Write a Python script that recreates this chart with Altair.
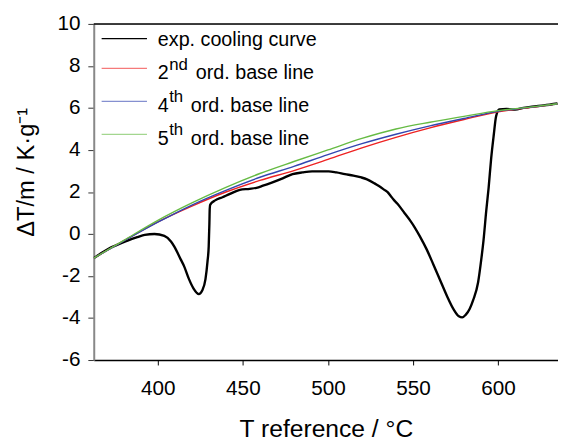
import altair as alt
import pandas as pd

# ---- data ----
exp_T = [362.3, 366, 371, 376, 382.6, 388, 392.3, 398, 403.8, 407.7, 409.6, 413.5, 415.4,
         418.3, 421, 424.1, 426, 428, 429.2, 429.9, 430.3, 430.5, 430.8, 433.7, 438, 442.4,
         448.2, 454, 458, 461.8, 467, 473.4, 479.2, 485, 490.7, 500.4, 505, 510, 515, 519.7,
         523, 527.4, 530, 533.2, 535.1, 537, 539, 540.9, 545, 548.7, 551, 554, 558, 562,
         566, 570, 574, 577, 579, 581, 583.4, 585.4, 588.3, 590.2, 591.5, 593.1,
         594.5, 596, 597.5, 598.9, 600.8, 605, 610, 615, 620, 627, 635]
exp_v = [-1.15, -0.95, -0.7, -0.52, -0.3, -0.15, -0.04, 0.0, -0.09, -0.36, -0.59, -1.22, -1.53,
         -2.15, -2.6, -2.86, -2.7, -2.15, -1.3, -0.59, 0.5, 1.2, 1.4, 1.6, 1.75, 1.91,
         2.1, 2.15, 2.2, 2.3, 2.45, 2.65, 2.85, 2.93, 2.98, 2.98, 2.93, 2.85, 2.78, 2.69,
         2.6, 2.41, 2.28, 2.1, 1.99, 1.8, 1.6, 1.44, 1.0, 0.6, 0.32, -0.1, -0.72, -1.45,
         -2.2, -2.95, -3.6, -3.92, -3.97, -3.85, -3.56, -3.15, -2.31, -1.2, -0.3, 1.1,
         2.2, 3.6, 4.7, 5.6, 5.93, 5.95, 5.92, 6.0, 6.06, 6.12, 6.21]

base_T = [362.3, 380, 400, 420, 440, 460, 480, 500, 520, 540, 560, 580, 600, 620, 635]
base2_v = [-1.15, -0.32, 0.58, 1.33, 2.0, 2.55, 3.02, 3.55, 4.1, 4.6, 5.05, 5.45, 5.82, 6.03, 6.2]
base4_v = [-1.15, -0.33, 0.56, 1.38, 2.08, 2.7, 3.22, 3.78, 4.3, 4.75, 5.15, 5.5, 5.84, 6.04, 6.2]
base5_v = [-1.15, -0.3, 0.65, 1.48, 2.22, 2.88, 3.45, 4.0, 4.55, 5.0, 5.32, 5.6, 5.87, 6.05, 6.2]

x_ticks = [400, 450, 500, 550, 600]
y_ticks = [-6, -4, -2, 0, 2, 4, 6, 8, 10]

W, H = 471, 341
FONT = "Liberation Sans"
RED, BLUE, GREEN = "#ee2222", "#3346b0", "#66bb44"

exp_df = pd.DataFrame({"T": exp_T, "v": exp_v})
base_df = pd.concat([
    pd.DataFrame({"T": base_T, "v": base2_v, "s": "2"}),
    pd.DataFrame({"T": base_T, "v": base4_v, "s": "4"}),
    pd.DataFrame({"T": base_T, "v": base5_v, "s": "5"}),
])

xs = alt.Scale(domain=[362.3, 635.3], nice=False, zero=False)
ys = alt.Scale(domain=[-6, 10], nice=False, zero=False)

x_axis = alt.Axis(values=x_ticks, title="T reference / °C", grid=False,
                  labelFontSize=21, labelFont=FONT, labelColor="black", labelPadding=13,
                  tickSize=5, tickColor="black", domainColor="black", domainWidth=1.5,
                  titleFontSize=25, titleFont=FONT, titleFontWeight="normal", titleColor="black",
                  titleBaseline="alphabetic", titleY=78)
y_axis = alt.Axis(values=y_ticks, title="ΔT/m  /  K·g⁻¹", grid=False,
                  labelFontSize=21, labelFont=FONT, labelColor="black", labelPadding=8,
                  labelExpr="replace(datum.label, '−', '-')",
                  tickSize=6, tickColor="#333333", domainColor="#888888", domainWidth=2,
                  titleFontSize=24, titleFont=FONT, titleFontWeight="normal", titleColor="black",
                  titleAngle=270, titleAlign="center", titleBaseline="middle",
                  titleX=-68, titleY=150)

black = alt.Chart(exp_df).mark_line(color="black", strokeWidth=2.4, interpolate="monotone", clip=True).encode(
    x=alt.X("T:Q", scale=xs, axis=x_axis),
    y=alt.Y("v:Q", scale=ys, axis=y_axis),
    order="T:Q",
)

def base_line(s, color):
    return alt.Chart(base_df[base_df.s == s]).mark_line(
        color=color, strokeWidth=1.4, interpolate="monotone", clip=True).encode(
        x=alt.X("T:Q", scale=xs), y=alt.Y("v:Q", scale=ys))

one = pd.DataFrame({"a": [0]})

top_border = alt.Chart(one).mark_rule(color="black", strokeWidth=1.5).encode(
    x=alt.value(0), x2=alt.value(W), y=alt.value(0))

# manual legend
leg_layers = []
rows = [
    ("exp. cooling curve", None, None, "black", 15, 22),
    ("2", "nd", "ord. base line", RED, 45, 55.7),
    ("4", "th", "ord. base line", BLUE, 78.5, 89),
    ("5", "th", "ord. base line", GREEN, 112, 122.5),
]
for main, sup, rest, color, ly, ty in rows:
    leg_layers.append(alt.Chart(one).mark_rule(color=color, strokeWidth=1.3,
                                               opacity=1 if color == "black" else 0.6).encode(
        x=alt.value(8), x2=alt.value(54), y=alt.value(ly)))
    leg_layers.append(alt.Chart(one).mark_text(align="left", baseline="alphabetic", fontSize=20,
                                               font=FONT, color="black").encode(
        x=alt.value(65), y=alt.value(ty), text=alt.value(main)))
    if sup:
        leg_layers.append(alt.Chart(one).mark_text(align="left", baseline="alphabetic", fontSize=17,
                                                   font=FONT, color="black").encode(
            x=alt.value(76.5), y=alt.value(ty - 9.4), text=alt.value(sup)))
        rx = 103.5 if sup == "nd" else 98.5
        leg_layers.append(alt.Chart(one).mark_text(align="left", baseline="alphabetic", fontSize=20,
                                                   font=FONT, color="black").encode(
            x=alt.value(rx), y=alt.value(ty), text=alt.value(rest)))

chart = alt.layer(
    black,
    base_line("2", RED), base_line("4", BLUE), base_line("5", GREEN),
    top_border, *leg_layers,
).properties(
    width=W, height=H,
    autosize=alt.AutoSizeParams(type="none"),
    padding={"left": 87, "top": 13, "right": 0, "bottom": 80},
).configure_view(stroke=None).configure(background="white")

chart.save("out.html", embed_options={"renderer": "svg", "actions": False})
